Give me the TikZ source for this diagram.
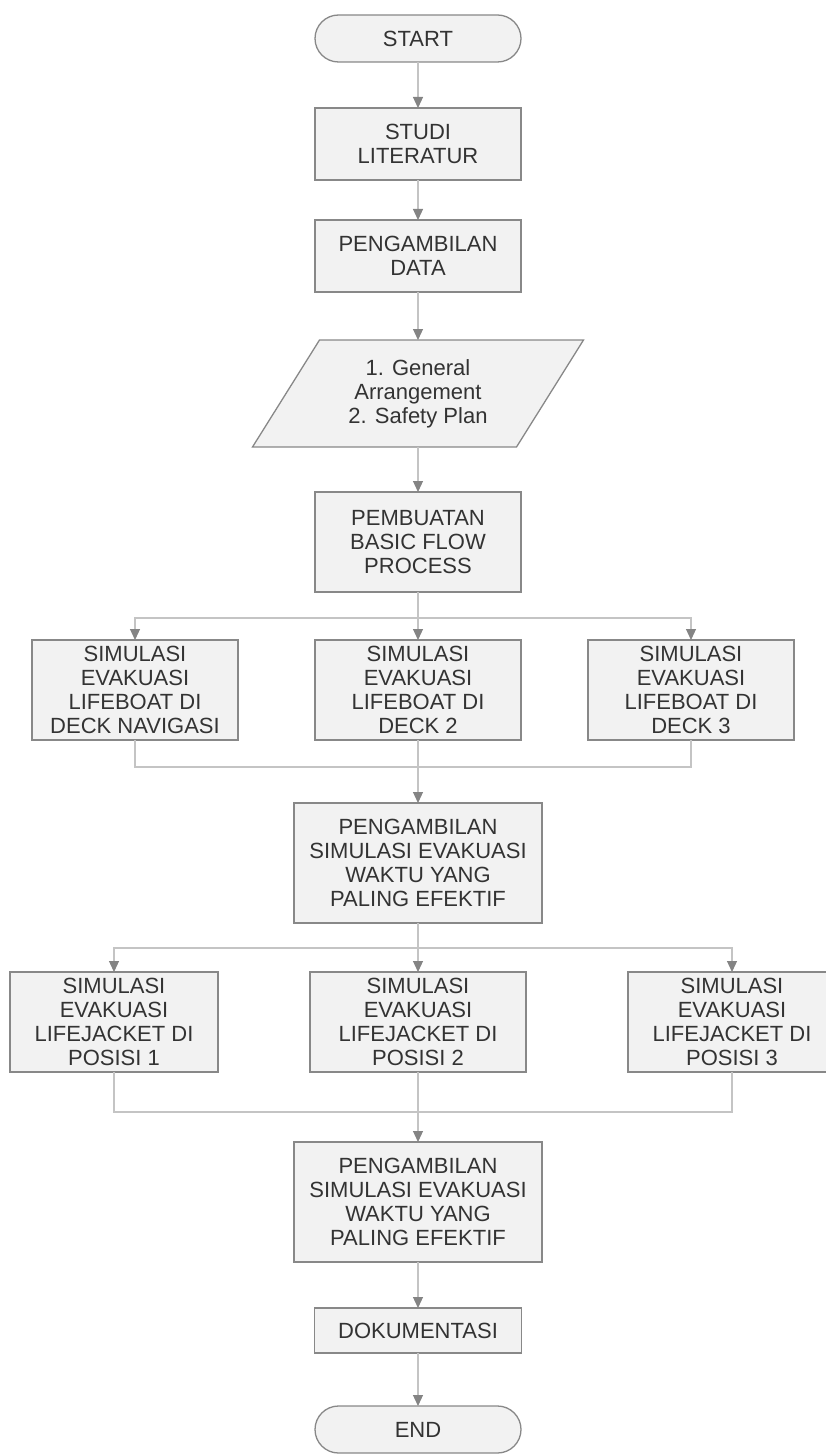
\documentclass[tikz,border=0pt]{standalone}
\usepackage{fontspec}
\setmainfont{Liberation Sans}
\usepackage{xcolor}
\usepackage{tikz}
\usetikzlibrary{arrows.meta,positioning,calc,backgrounds}

\definecolor{boxfill}{HTML}{F2F2F2}
\definecolor{boxline}{HTML}{888888}
\definecolor{connline}{HTML}{C4C4C4}
\definecolor{tipgray}{HTML}{848484}
\definecolor{txtgray}{HTML}{333333}

\begin{document}
\begin{tikzpicture}[
  x=1pt, y=1pt,
  font=\fontsize{22}{24}\selectfont,
  box/.style={draw=boxline,line width=1.3pt,fill=boxfill,text=txtgray,minimum width=206pt,align=center,inner sep=2pt,outer sep=0pt},
  term/.style={box,rounded corners=23.5pt,minimum height=47pt},
  io/.style={text=txtgray,minimum width=264pt,minimum height=107pt,align=center,inner sep=2pt,outer sep=0pt},
  iobox/.style={draw=boxline,line width=1.3pt,fill=boxfill},
  line/.style={draw=connline,line width=1.2pt},
  arrow/.style={line,-{Triangle[length=11pt,width=10pt,color=tipgray]}},
]
\useasboundingbox (0,0) rectangle (826,-1455);
\node[term] (start) at (418,-38.5) {START};
\node[box,minimum height=72pt,below=46pt of start] (studi) {STUDI\\LITERATUR};
\node[box,minimum height=72pt,below=40pt of studi] (data) {PENGAMBILAN\\DATA};
\node[io,below=48pt of data] (input) {1. General\\Arrangement\\2. Safety Plan};
\begin{scope}[on background layer]
\draw[iobox] ($(input.north west)+(33.5,0)$) -- ($(input.north east)+(33.5,0)$)
  -- ($(input.south east)-(33.5,0)$) -- ($(input.south west)-(33.5,0)$) -- cycle;
\end{scope}
\node[box,minimum height=100pt,below=45pt of input] (pemb) {PEMBUATAN\\BASIC FLOW\\PROCESS};

\node[box,minimum height=100pt,below=48pt of pemb] (lbdeck2) {SIMULASI\\EVAKUASI\\LIFEBOAT DI\\DECK 2};
\node[box,minimum height=100pt,left=77pt of lbdeck2] (lbnav) {SIMULASI\\EVAKUASI\\LIFEBOAT DI\\DECK NAVIGASI};
\node[box,minimum height=100pt,right=67pt of lbdeck2] (lbdeck3) {SIMULASI\\EVAKUASI\\LIFEBOAT DI\\DECK 3};
\node[box,minimum width=248pt,minimum height=120pt,below=63pt of lbdeck2] (best1) {PENGAMBILAN\\SIMULASI EVAKUASI\\WAKTU YANG\\PALING EFEKTIF};

\node[box,minimum width=216pt,minimum height=100pt,below=49pt of best1] (ljpos2) {SIMULASI\\EVAKUASI\\LIFEJACKET DI\\POSISI 2};
\node[box,minimum width=208pt,minimum height=100pt,left=92pt of ljpos2] (ljpos1) {SIMULASI\\EVAKUASI\\LIFEJACKET DI\\POSISI 1};
\node[box,minimum width=208pt,minimum height=100pt,right=102pt of ljpos2] (ljpos3) {SIMULASI\\EVAKUASI\\LIFEJACKET DI\\POSISI 3};
\node[box,minimum width=248pt,minimum height=120pt,below=70pt of ljpos2] (best2) {PENGAMBILAN\\SIMULASI EVAKUASI\\WAKTU YANG\\PALING EFEKTIF};

\node[box,minimum width=207pt,minimum height=45pt,below=46pt of best2] (dok) {DOKUMENTASI};
\node[term,below=53pt of dok] (end) {END};

\draw[arrow] (start) -- (studi);
\draw[arrow] (studi) -- (data);
\draw[arrow] (data) -- (input);
\draw[arrow] (input) -- (pemb);

\coordinate[below=26pt of pemb.south] (split1);
\draw[arrow] (pemb) -- (lbdeck2);
\draw[arrow] (split1) -| (lbnav.north);
\draw[arrow] (split1) -| (lbdeck3.north);
\coordinate[below=27pt of lbdeck2.south] (join1);
\draw[line] (lbnav.south) |- (join1) -| (lbdeck3.south);
\draw[arrow] (lbdeck2) -- (best1);

\coordinate[below=25pt of best1.south] (split2);
\draw[arrow] (best1) -- (ljpos2);
\draw[arrow] (split2) -| (ljpos1.north);
\draw[arrow] (split2) -| (ljpos3.north);
\coordinate[below=40pt of ljpos2.south] (join2);
\draw[line] (ljpos1.south) |- (join2) -| (ljpos3.south);
\draw[arrow] (ljpos2) -- (best2);

\draw[arrow] (best2) -- (dok);
\draw[arrow] (dok) -- (end);
\end{tikzpicture}
\end{document}
